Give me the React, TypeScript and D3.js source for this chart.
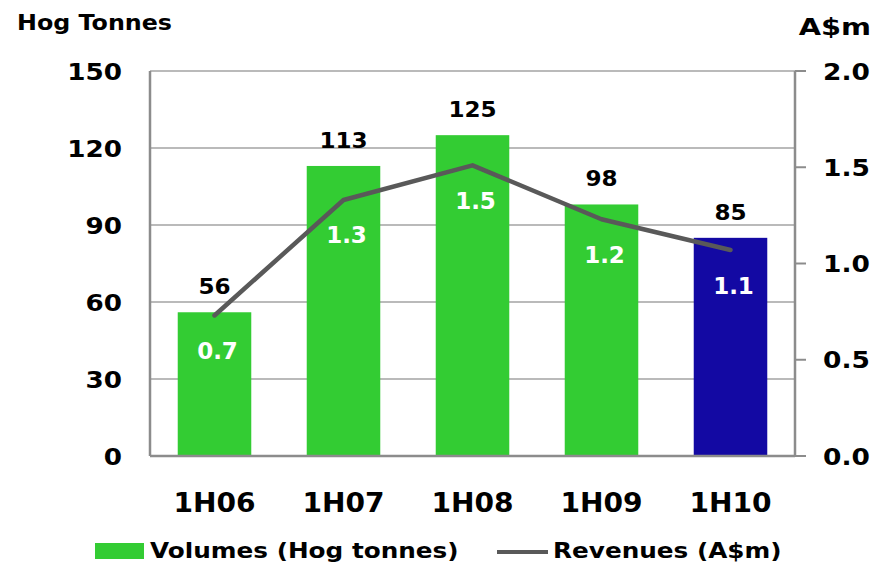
import React from "react";
import * as d3 from "d3";

// Half-year periods shown along the x axis
const periods = ["1H06", "1H07", "1H08", "1H09", "1H10"];
// Hog volumes, tonnes (left axis)
const volumes = [56, 113, 125, 98, 85];
// Revenues, A$m (right axis)
const revenues = [0.73, 1.33, 1.51, 1.23, 1.07];
// Axis ticks
const volumeTicks = [0, 30, 60, 90, 120, 150];
const revenueTicks = [0, 0.5, 1.0, 1.5, 2.0];

const W = 875;
const H = 565;
const plot = { left: 150, right: 795, top: 71, bottom: 456 };

const GREEN = "#33CC33";
const BLUE = "#1309A3";
const LINE = "#595959";
const FONT = "Verdana, 'DejaVu Sans', sans-serif";

// Text drawn at (x, y) and stretched horizontally by sx
function Label({
  x, y, sx = 1, size, anchor = "middle", fill = "#000", children,
}: {
  x: number; y: number; sx?: number; size: number; anchor?: string; fill?: string; children: React.ReactNode;
}) {
  return (
    <text
      transform={`translate(${x},${y}) scale(${sx},1)`}
      textAnchor={anchor}
      fontFamily={FONT}
      fontWeight="bold"
      fontSize={size}
      fill={fill}
    >
      {children}
    </text>
  );
}

export default function App() {
  const x = d3
    .scaleBand<string>()
    .domain(periods)
    .range([plot.left, plot.right])
    .paddingInner(0.43)
    .paddingOuter(0.215);
  const yL = d3.scaleLinear().domain([0, 150]).range([plot.bottom, plot.top]);
  const yR = d3.scaleLinear().domain([0, 2]).range([plot.bottom, plot.top]);
  const cx = (p: string) => (x(p) as number) + x.bandwidth() / 2;

  const line = d3
    .line<number>()
    .x((_, i) => cx(periods[i]))
    .y((d) => yR(d));

  const fmt1 = d3.format(".1f");

  return (
    <svg
      width={W}
      height={H}
      style={{ position: "absolute", left: 0, top: 0, background: "#fff" }}
    >
      {/* horizontal gridlines */}
      {volumeTicks.slice(1).map((t) => (
        <line
          key={`g${t}`}
          x1={plot.left}
          x2={plot.right}
          y1={yL(t)}
          y2={yL(t)}
          stroke="#A3A3A3"
          strokeWidth={1.6}
        />
      ))}

      {/* bars */}
      {volumes.map((v, i) => (
        <rect
          key={`b${i}`}
          x={x(periods[i])}
          y={yL(v)}
          width={x.bandwidth()}
          height={yL(0) - yL(v)}
          fill={i === periods.length - 1 ? BLUE : GREEN}
        />
      ))}

      {/* axes */}
      <line x1={plot.left} x2={plot.left} y1={plot.top} y2={plot.bottom} stroke="#8C8C8C" strokeWidth={2.5} />
      <line x1={plot.right} x2={plot.right} y1={plot.top} y2={plot.bottom} stroke="#8C8C8C" strokeWidth={2.5} />
      <line x1={plot.left} x2={plot.right} y1={plot.bottom} y2={plot.bottom} stroke="#8C8C8C" strokeWidth={2.5} />
      {revenueTicks.map((t) => (
        <line
          key={`rt${t}`}
          x1={plot.right}
          x2={plot.right + 11}
          y1={yR(t)}
          y2={yR(t)}
          stroke="#8C8C8C"
          strokeWidth={2}
        />
      ))}

      {/* revenue line */}
      <path
        d={line(revenues) || ""}
        fill="none"
        stroke={LINE}
        strokeWidth={4.5}
        strokeLinecap="round"
        strokeLinejoin="round"
      />

      {/* volume labels above bars */}
      {volumes.map((v, i) => (
        <Label key={`vl${i}`} x={cx(periods[i])} y={yL(v) - 18} size={21} sx={1.1}>
          {v}
        </Label>
      ))}

      {/* revenue labels below line points */}
      {revenues.map((r, i) => (
        <Label key={`rl${i}`} x={cx(periods[i]) + 3} y={yR(r) + 43.5} size={23} sx={1.0} fill="#fff">
          {fmt1(r)}
        </Label>
      ))}

      {/* left tick labels */}
      {volumeTicks.map((t) => (
        <Label key={`lt${t}`} x={122} y={yL(t) + 8.5} size={23} sx={1.14} anchor="end">
          {t}
        </Label>
      ))}

      {/* right tick labels */}
      {revenueTicks.map((t) => (
        <Label key={`rtl${t}`} x={823} y={yR(t) + 8.5} size={23} sx={1.15} anchor="start">
          {fmt1(t)}
        </Label>
      ))}

      {/* category labels */}
      {periods.map((p) => (
        <Label key={`c${p}`} x={cx(p)} y={512} size={27} sx={1.04}>
          {p}
        </Label>
      ))}

      {/* axis titles */}
      <Label x={17} y={30} size={20.5} sx={1.16} anchor="start">
        Hog Tonnes
      </Label>
      <Label x={871} y={35} size={22.5} sx={1.28} anchor="end">
        A$m
      </Label>

      {/* legend */}
      <rect x={95} y={543} width={49} height={16} fill={GREEN} />
      <Label x={150} y={558} size={21.5} sx={1.15} anchor="start">
        Volumes (Hog tonnes)
      </Label>
      <line x1={497} x2={548} y1={552} y2={552} stroke={LINE} strokeWidth={4} />
      <Label x={553} y={558} size={21.5} sx={1.15} anchor="start">
        Revenues (A$m)
      </Label>
    </svg>
  );
}
